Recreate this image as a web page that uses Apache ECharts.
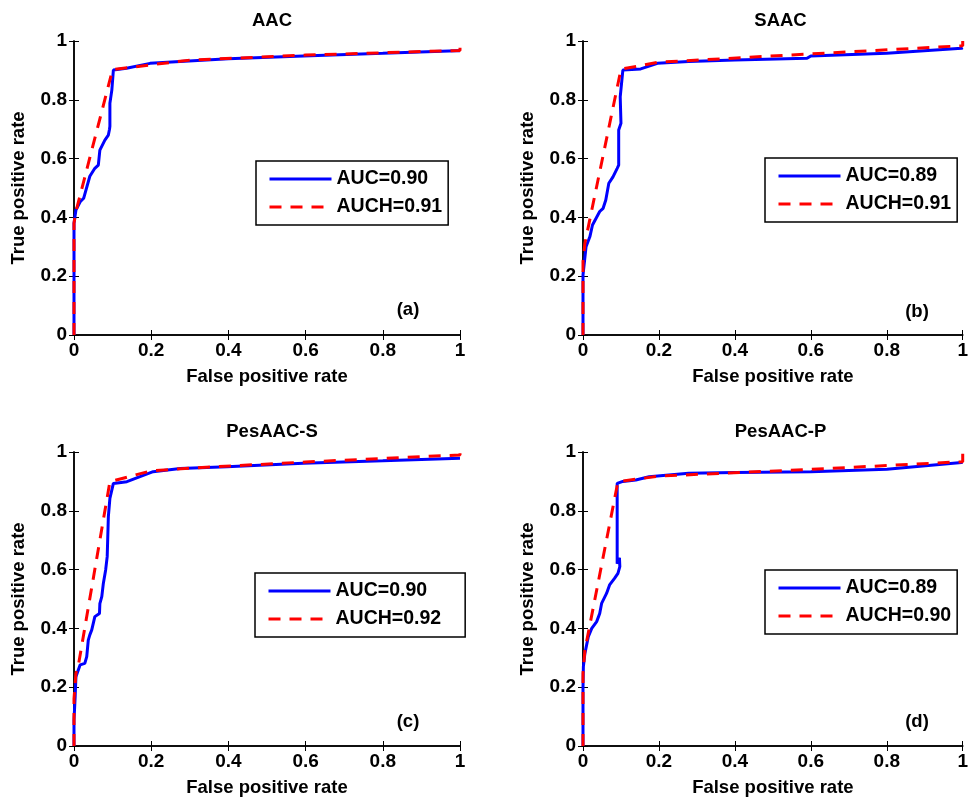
<!DOCTYPE html>
<html>
<head>
<meta charset="utf-8">
<script src="https://cdn.jsdelivr.net/npm/echarts@6/dist/echarts.min.js"></script>
<style>html,body{margin:0;padding:0;background:#fff}#c{width:971px;height:801px}</style>
</head>
<body>
<div id="c"></div>
<script>
// ---- data ----
var panelTitles = ['AAC', 'SAAC', 'PesAAC-S', 'PesAAC-P'];
var panelTags = ['(a)', '(b)', '(c)', '(d)'];
var aucNames = ['AUC=0.90', 'AUC=0.89', 'AUC=0.90', 'AUC=0.89'];
var auchNames = ['AUCH=0.91', 'AUCH=0.91', 'AUCH=0.92', 'AUCH=0.90'];
var axisTicks = [0, 0.2, 0.4, 0.6, 0.8, 1];

var rocA = [[0,0],[0,0.38],[0.005,0.425],[0.016,0.453],[0.025,0.465],[0.041,0.54],[0.054,0.567],[0.063,0.578],[0.067,0.629],[0.080,0.663],[0.089,0.68],[0.092,0.70],[0.095,0.705],[0.093,0.71],[0.093,0.788],[0.098,0.833],[0.102,0.901],[0.136,0.907],[0.197,0.924],[0.275,0.93],[0.4,0.94],[0.594,0.949],[0.8,0.958],[0.991,0.967],[1,0.967]];
var hullA = [[0,0],[0,0.38],[0.005,0.42],[0.1,0.903],[0.3,0.935],[0.6,0.952],[1,0.968],[1,1]];

var rocB = [[0,0],[0,0.204],[0.008,0.30],[0.018,0.334],[0.025,0.374],[0.044,0.42],[0.053,0.431],[0.06,0.459],[0.068,0.516],[0.079,0.538],[0.09,0.567],[0.094,0.578],[0.09,0.575],[0.094,0.697],[0.1,0.72],[0.098,0.81],[0.105,0.901],[0.152,0.905],[0.196,0.924],[0.278,0.93],[0.4,0.935],[0.59,0.941],[0.6,0.949],[0.8,0.958],[0.997,0.975],[1,0.977]];
var hullB = [[0,0],[0,0.25],[0.005,0.312],[0.1,0.904],[0.2,0.928],[0.6,0.956],[1,0.984],[1,1]];

var rocC = [[0,0],[0,0.088],[0.003,0.168],[0.005,0.236],[0.016,0.276],[0.028,0.281],[0.033,0.304],[0.037,0.36],[0.041,0.378],[0.046,0.395],[0.054,0.44],[0.066,0.451],[0.067,0.484],[0.072,0.508],[0.076,0.553],[0.082,0.599],[0.086,0.644],[0.089,0.78],[0.093,0.842],[0.102,0.893],[0.137,0.899],[0.149,0.905],[0.171,0.916],[0.205,0.933],[0.275,0.944],[0.396,0.95],[0.594,0.962],[0.8,0.97],[1,0.979]];
var hullC = [[0,0],[0,0.16],[0.005,0.247],[0.012,0.28],[0.093,0.899],[0.2,0.936],[0.3,0.945],[0.6,0.966],[1,0.99],[1,1]];

var rocD = [[0,0],[0,0.196],[0.001,0.27],[0.005,0.315],[0.014,0.372],[0.023,0.4],[0.036,0.423],[0.044,0.451],[0.049,0.485],[0.062,0.519],[0.07,0.548],[0.083,0.57],[0.092,0.587],[0.097,0.61],[0.096,0.64],[0.09,0.62],[0.09,0.893],[0.105,0.9],[0.139,0.905],[0.174,0.916],[0.278,0.928],[0.4,0.93],[0.6,0.933],[0.8,0.941],[0.997,0.964],[1,0.964]];
var hullD = [[0,0],[0,0.247],[0.005,0.326],[0.092,0.899],[0.2,0.918],[0.6,0.941],[1,0.967],[1,1]];

var rocs = [rocA, rocB, rocC, rocD];
var hulls = [hullA, hullB, hullC, hullD];

// ---- layout ----
var FONT = '"Liberation Sans", Arial, Helvetica, sans-serif';
var grids = [
  {left: 74, top: 41, width: 386, height: 294},
  {left: 583, top: 41, width: 385, height: 294},
  {left: 74, top: 452, width: 386, height: 294},
  {left: 583, top: 452, width: 385, height: 294}
];
var legendPos = [
  {left: 256, top: 161, padR: 6},
  {left: 765, top: 158, padR: 6},
  {left: 255, top: 573, padR: 24},
  {left: 765, top: 570, padR: 6}
];
var tagPos = [[403, 306], [912, 308], [403, 718], [912, 718]];

var option = {
  backgroundColor: '#fff',
  animation: false,
  grid: grids.map(function (g) { return Object.assign({containLabel: false}, g); }),
  title: [],
  legend: [],
  xAxis: [],
  yAxis: [],
  series: []
};

var labelStyle = {color: '#000', fontFamily: FONT, fontWeight: 'bold', fontSize: 19};
var nameStyle = {color: '#000', fontFamily: FONT, fontWeight: 'bold', fontSize: 18.5};

for (var i = 0; i < 4; i++) {
  var g = grids[i];
  option.title.push({
    text: panelTitles[i], left: g.left + g.width / 2, top: g.top - 35, textAlign: 'center',
    textStyle: nameStyle
  });
  option.title.push({
    text: panelTags[i], left: tagPos[i][0], top: tagPos[i][1] - 11, textAlign: 'center',
    textStyle: nameStyle
  });
  option.xAxis.push({
    type: 'value', gridIndex: i, min: 0, max: 1, interval: 0.2, position: 'bottom',
    name: 'False positive rate', nameLocation: 'middle', nameGap: 32,
    nameTextStyle: nameStyle,
    axisLine: {lineStyle: {color: '#000', width: 1.5}},
    axisTick: {inside: true, length: 5, lineStyle: {color: '#000', width: 1}},
    axisLabel: Object.assign({margin: 6}, labelStyle),
    splitLine: {show: false}
  });
  option.xAxis.push({
    type: 'value', gridIndex: i, min: 0, max: 1, interval: 0.2, position: 'top',
    axisLine: {show: true, lineStyle: {color: '#000', width: 1.5}},
    axisTick: {inside: true, length: 5, lineStyle: {color: '#000', width: 1}},
    axisLabel: {show: false}, splitLine: {show: false}
  });
  option.yAxis.push({
    type: 'value', gridIndex: i, min: 0, max: 1, interval: 0.2, position: 'left',
    name: 'True positive rate', nameLocation: 'middle', nameGap: 46, nameRotate: 90,
    nameTextStyle: nameStyle,
    axisLine: {show: true, lineStyle: {color: '#000', width: 1.5}},
    axisTick: {show: true, inside: true, length: 5, lineStyle: {color: '#000', width: 1}},
    axisLabel: Object.assign({margin: 7}, labelStyle),
    splitLine: {show: false}
  });
  option.yAxis.push({
    type: 'value', gridIndex: i, min: 0, max: 1, interval: 0.2, position: 'right',
    axisLine: {show: true, lineStyle: {color: '#000', width: 1.5}},
    axisTick: {show: true, inside: true, length: 5, lineStyle: {color: '#000', width: 1}},
    axisLabel: {show: false}, splitLine: {show: false}
  });
  option.series.push({
    type: 'line', name: aucNames[i], xAxisIndex: 2 * i, yAxisIndex: 2 * i,
    data: rocs[i], symbol: 'none', smooth: false, z: 2,
    lineStyle: {color: '#0000ff', width: 3}, itemStyle: {color: '#0000ff'}
  });
  option.series.push({
    type: 'line', name: auchNames[i], xAxisIndex: 2 * i, yAxisIndex: 2 * i,
    data: hulls[i], symbol: 'none', smooth: false, z: 3,
    lineStyle: {color: '#ff0000', width: 3, type: [12, 9]}, itemStyle: {color: '#ff0000'}
  });
  option.legend.push({
    data: [aucNames[i], auchNames[i]], orient: 'vertical',
    left: legendPos[i].left, top: legendPos[i].top,
    padding: [8, legendPos[i].padR, 8, 12], itemGap: 8, itemWidth: 62, itemHeight: 14,
    backgroundColor: '#fff', borderColor: '#000', borderWidth: 1.5, borderRadius: 0,
    selectedMode: false,
    itemStyle: {color: 'rgba(0,0,0,0)', borderWidth: 0, opacity: 0},
    lineStyle: {width: 3},
    textStyle: {color: '#000', fontFamily: FONT, fontWeight: 'bold', fontSize: 19.5, lineHeight: 20}
  });
}

var chart = echarts.init(document.getElementById('c'), null, {renderer: 'canvas'});
chart.setOption(option);
</script>
</body>
</html>
